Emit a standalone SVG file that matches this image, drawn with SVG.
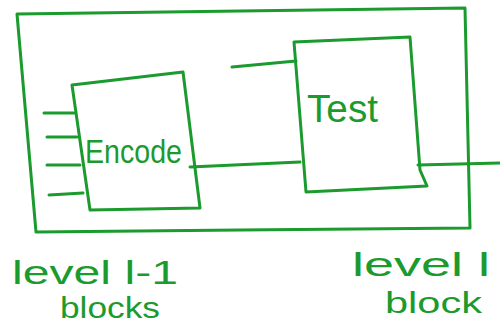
<svg xmlns="http://www.w3.org/2000/svg" width="500" height="326" viewBox="0 0 500 326">
<style>
.s{fill:none;stroke:#1b9a2e;stroke-width:3;stroke-linecap:round;stroke-linejoin:round}
.t{fill:#1b9a2e;font-family:"Liberation Sans",Arial,sans-serif}
</style>
<rect width="500" height="326" fill="#fff"/>
<g id="outer">
<path class="s" d="M17,14 L240,11 L465,8 L470,228 L240,230 L36,232 Z"/>
</g>
<g id="encode">
<path class="s" d="M72,85 L183,72 L200,208 L90,210 Z"/>
<text class="t" x="85" y="163" font-size="34" textLength="97" lengthAdjust="spacingAndGlyphs">Encode</text>
</g>
<g id="test">
<path class="s" d="M294,42 L410,37 L420,170 L427,186 L306,192 Z"/>
<text class="t" x="307" y="122" font-size="38" textLength="71" lengthAdjust="spacingAndGlyphs">Test</text>
</g>
<g id="connectors">
<path class="s" d="M44,113 L74,113 M47,137 L77,137 M47,165 L80,165 M49,195 L83,193"/>
<path class="s" d="M232,67 L296,61"/>
<path class="s" d="M190,167 L300,162"/>
<path class="s" d="M418,165 L500,163"/>
</g>
<g id="labels">
<text class="t" x="12" y="284" font-size="33" textLength="166" lengthAdjust="spacingAndGlyphs">level l-1</text>
<text class="t" x="60" y="318" font-size="29" textLength="100" lengthAdjust="spacingAndGlyphs">blocks</text>
<text class="t" x="352" y="276" font-size="33" textLength="138" lengthAdjust="spacingAndGlyphs">level l</text>
<text class="t" x="385" y="313" font-size="29" textLength="97" lengthAdjust="spacingAndGlyphs">block</text>
</g>
</svg>
